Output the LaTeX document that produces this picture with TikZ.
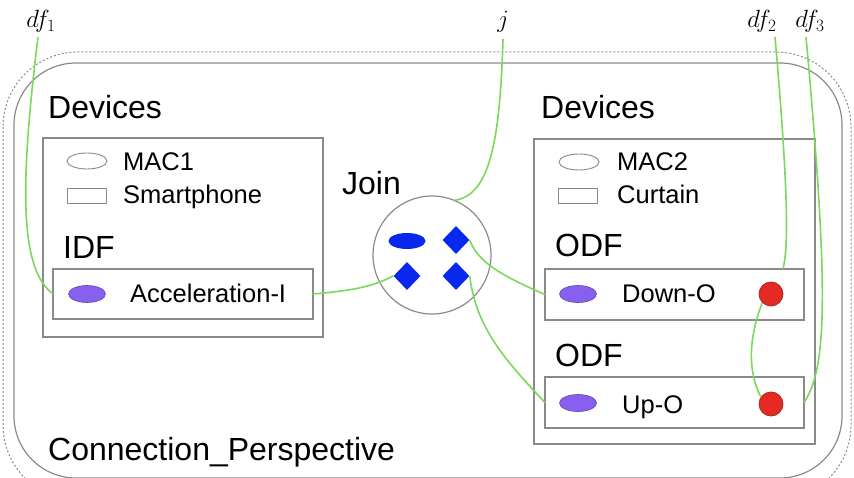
\documentclass[tikz,border=0pt]{standalone}
\usepackage{fontspec}
\setmainfont{Liberation Sans}
\usetikzlibrary{shapes.geometric}
\definecolor{lgreen}{RGB}{122,216,92}
\definecolor{boxgray}{RGB}{138,138,138}
\definecolor{jblue}{RGB}{8,40,238}
\definecolor{vpurple}{RGB}{136,96,240}
\definecolor{dred}{RGB}{228,42,34}
\definecolor{dredb}{RGB}{170,40,35}
\begin{document}
\begin{tikzpicture}[x=1pt,y=-1pt,
  hdr/.style={font=\fontsize{32}{37}\selectfont, anchor=base west, inner sep=0},
  lbl/.style={font=\fontsize{25.5}{30}\selectfont, anchor=base west, inner sep=0},
  mathlbl/.style={font=\fontsize{26}{30}\selectfont, anchor=base, inner sep=0},
  frame/.style={draw=boxgray, line width=1.2pt, inner sep=0, outer sep=0, anchor=north west},
  legell/.style={ellipse, draw=boxgray, line width=0.9pt, minimum width=40pt, minimum height=16pt, inner sep=0},
  legrect/.style={rectangle, draw=boxgray, line width=0.9pt, minimum width=39pt, minimum height=15pt, inner sep=0},
  pell/.style={ellipse, fill=vpurple, draw=vpurple!70!black, line width=0.6pt, minimum width=37pt, minimum height=17pt, inner sep=0},
  bell/.style={ellipse, fill=jblue, minimum width=37pt, minimum height=16pt, inner sep=0},
  bdia/.style={diamond, fill=jblue, minimum width=27pt, minimum height=28pt, inner sep=0},
  rdot/.style={circle, fill=dred, draw=dredb, line width=0.8pt, minimum size=24pt, inner sep=0},
  wire/.style={draw=lgreen, line width=1.6pt}]
\useasboundingbox (0,0) rectangle (854,478);
% outer frames
\draw[boxgray, line width=1pt, dash pattern=on 2pt off 2pt, rounded corners=75pt] (3,52) rectangle (851,500);
\draw[boxgray, line width=1.2pt, rounded corners=62pt] (14,63) rectangle (842,478);
% math labels
\node[mathlbl] (df1) at (41,28) {$df_1$};
\node[mathlbl] (jl) at (503,28) {$j$};
\node[mathlbl] (df2) at (762,28) {$df_2$};
\node[mathlbl] (df3) at (810,28) {$df_3$};
% left devices
\node[hdr] (devLt) at (48,119) {Devices};
\node[frame, minimum width=280pt, minimum height=199pt] (devL) at (43,138) {};
\node[legell] (mac1e) at (87,161) {};
\node[lbl] (mac1) at (123,171) {MAC1};
\node[legrect] (smr) at (87,196) {};
\node[lbl] (smt) at (123,204) {Smartphone};
\node[hdr] (idf) at (63,259) {IDF};
\node[frame, minimum width=260pt, minimum height=50pt] (accbox) at (53,269) {};
\node[pell] (acce) at (87,294) {};
\node[lbl] (acct) at (130,303) {Acceleration-I};
% join
\node[hdr] (jointxt) at (342,195) {Join};
\node[circle, draw=boxgray, line width=1.2pt, minimum size=118pt, inner sep=0] (join) at (432,255) {};
\node[bell] (jell) at (407,241) {};
\node[bdia] (dtr) at (456,240) {};
\node[bdia] (dbl) at (407,276) {};
\node[bdia] (dbr) at (456,276) {};
% right devices
\node[hdr] (devRt) at (541,119) {Devices};
\node[frame, minimum width=281pt, minimum height=305pt] (devR) at (534,139) {};
\node[legell] (mac2e) at (579,162) {};
\node[lbl] (mac2) at (617,171) {MAC2};
\node[legrect] (cur) at (578,196) {};
\node[lbl] (curt) at (617,204) {Curtain};
\node[hdr] (odf1) at (555,257) {ODF};
\node[frame, minimum width=259pt, minimum height=51pt] (downbox) at (545,269) {};
\node[pell] (downe) at (578,294) {};
\node[lbl] (downt) at (622,303) {Down-O};
\node[rdot] (red1) at (771,294) {};
\node[hdr] (odf2) at (555,366) {ODF};
\node[frame, minimum width=259pt, minimum height=51pt] (upbox) at (545,377) {};
\node[pell] (upe) at (578,403) {};
\node[lbl] (upt) at (622,413) {Up-O};
\node[rdot] (red2) at (771,404) {};
\node[hdr] (cp) at (48,460) {Connection\_Perspective};
\coordinate (d2end) at (783,269);
% wires
\draw[wire] ([xshift=-3pt,yshift=-4pt]df1.south) .. controls (18,200) and (22,270) .. (accbox.west);
\draw[wire] (accbox.east) .. controls (360,290) and (375,285) .. (dbl.west);
\draw[wire] ([yshift=-6pt]jl.south) .. controls (500,140) and (490,195) .. (join.67);
\draw[wire] (dtr.east) .. controls (478,262) and (500,275) .. (downbox.west);
\draw[wire] (dbr.east) .. controls (476,325) and (500,355) .. (upbox.west);
\draw[wire] ([xshift=13pt,yshift=-4pt]df2.south) .. controls (792,230) and (786,255) .. (d2end);
\draw[wire] ([xshift=-4pt,yshift=-4pt]df3.south) .. controls (830,300) and (826,370) .. (upbox.east);
\draw[wire] (red1.225) .. controls (748,340) and (748,372) .. (red2.145);
\end{tikzpicture}
\end{document}
